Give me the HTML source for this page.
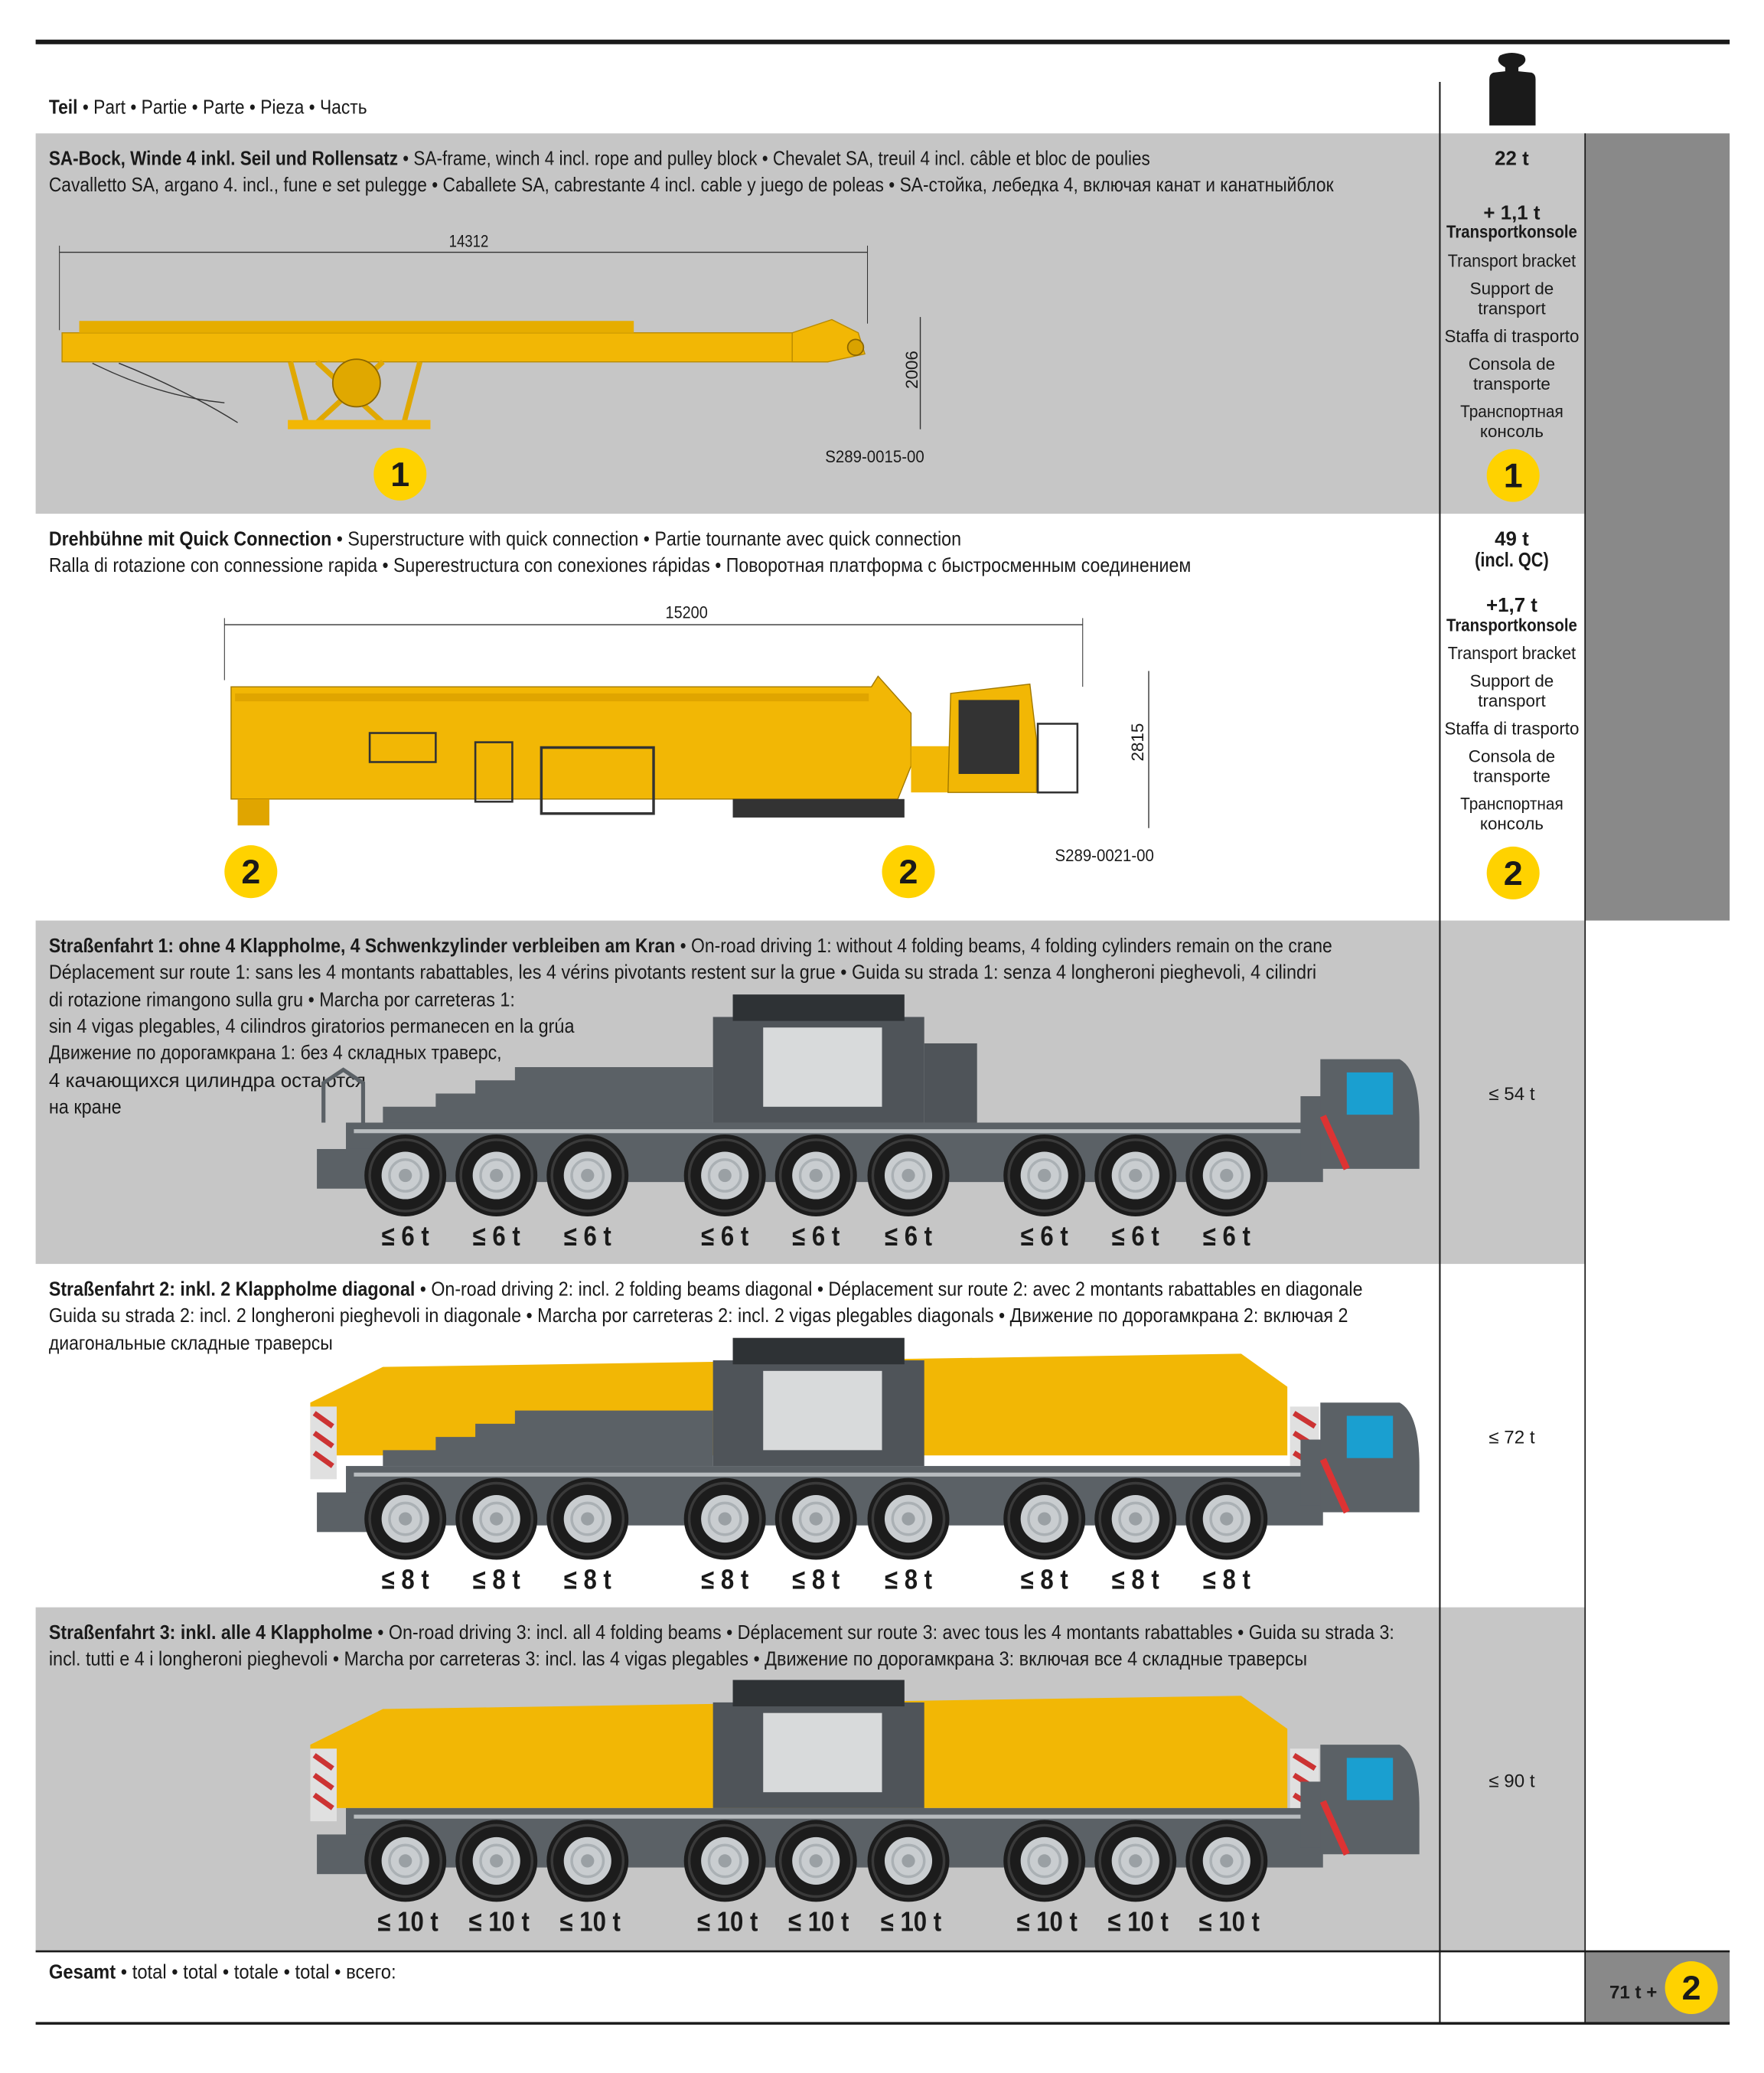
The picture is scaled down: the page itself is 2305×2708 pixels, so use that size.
<!DOCTYPE html>
<html><head><meta charset="utf-8"><style>
html,body{margin:0;padding:0;background:#fff;}
svg{display:block;}
text{font-family:"Liberation Sans Narrow","Liberation Sans",sans-serif;fill:#1a1a1a;}
.b{font-weight:bold;}
.c{text-anchor:middle;}
</style></head><body>
<svg width="2305" height="2708" viewBox="0 0 1336 1569.6" xmlns="http://www.w3.org/2000/svg">
<defs>
<g id="wheel">
<circle r="31" fill="#1c1c1c"/>
<circle r="27" fill="none" stroke="#3a3a3a" stroke-width="2"/>
<circle r="18" fill="#c9cdd0"/>
<circle r="12" fill="none" stroke="#aab0b4" stroke-width="2"/>
<circle r="5" fill="#9aa0a4"/>
</g>
<g id="wheels">
<use href="#wheel" x="307"/><use href="#wheel" x="376"/><use href="#wheel" x="445"/>
<use href="#wheel" x="549"/><use href="#wheel" x="618"/><use href="#wheel" x="688"/>
<use href="#wheel" x="791"/><use href="#wheel" x="860"/><use href="#wheel" x="929"/>
</g>
<g id="chassis">
<rect x="262" y="-40" width="740" height="45" fill="#5b6166"/>
<rect x="268" y="-35" width="720" height="3" fill="#b8bcbf"/>
<rect x="240" y="-20" width="40" height="30" fill="#5b6166"/>
<rect x="985" y="-60" width="20" height="50" fill="#5b6166"/>
<path d="M1000,-88 L1060,-88 Q1075,-80 1075,-40 L1075,-5 L1000,-5 Z" fill="#5b6166"/>
<rect x="1020" y="-78" width="35" height="32" fill="#1a9fd0"/>
<path d="M1002,-45 L1020,-5" stroke="#d33" stroke-width="5"/>
</g>
</defs>

<rect x="27" y="30" width="1283" height="3.5" fill="#1a1a1a"/>
<rect x="27" y="101" width="1173" height="288" fill="#c6c6c6"/>
<rect x="1200" y="101" width="110" height="596" fill="#898989"/>
<rect x="27" y="697" width="1173" height="260" fill="#c6c6c6"/>
<rect x="27" y="1217" width="1173" height="260" fill="#c6c6c6"/>
<rect x="1200" y="1477" width="110" height="55" fill="#898989"/>
<line x1="1090.5" y1="62" x2="1090.5" y2="1532" stroke="#1a1a1a" stroke-width="1.2"/>
<line x1="1200.5" y1="101" x2="1200.5" y2="1532" stroke="#1a1a1a" stroke-width="1"/>
<line x1="27" y1="1477.5" x2="1310" y2="1477.5" stroke="#1a1a1a" stroke-width="1.5"/>
<rect x="27" y="1531" width="1283" height="2" fill="#1a1a1a"/>

<path d="M1136,42 Q1145,38 1154,42 Q1158,47 1150,51 L1150,54 L1160,55 Q1163,56 1163,60 L1163,95 L1128,95 L1128,60 Q1128,56 1131,55 L1140,54 L1140,51 Q1132,47 1136,42 Z" fill="#1a1a1a"/>

<text x="37" y="86" font-size="15" textLength="241" lengthAdjust="spacingAndGlyphs"><tspan class="b">Teil</tspan> • Part • Partie • Parte • Pieza • Часть</text>

<!-- Row 1 -->
<text x="37" y="125" font-size="15" textLength="834" lengthAdjust="spacingAndGlyphs"><tspan class="b">SA-Bock, Winde 4 inkl. Seil und Rollensatz</tspan> • SA-frame, winch 4 incl. rope and pulley block • Chevalet SA, treuil 4 incl. câble et bloc de poulies</text>
<text x="37" y="145" font-size="15" textLength="973" lengthAdjust="spacingAndGlyphs">Cavalletto SA, argano 4. incl., fune e set pulegge • Caballete SA, cabrestante 4 incl. cable y juego de poleas • SA-стойка, лебедка 4, включая канат и канатныйблок</text>
<line x1="45" y1="191" x2="657" y2="191" stroke="#333" stroke-width="0.8"/>
<line x1="45" y1="186" x2="45" y2="250" stroke="#333" stroke-width="0.6"/>
<line x1="657" y1="186" x2="657" y2="245" stroke="#333" stroke-width="0.6"/>
<text x="355" y="187" font-size="13" class="c" textLength="30" lengthAdjust="spacingAndGlyphs">14312</text>
<line x1="697" y1="240" x2="697" y2="325" stroke="#333" stroke-width="0.8"/>
<text x="695" y="280" font-size="13" class="c" transform="rotate(-90 695 280)">2006</text>
<text x="700" y="350" font-size="13" text-anchor="end" textLength="75" lengthAdjust="spacingAndGlyphs">S289-0015-00</text>
<rect x="47" y="252" width="580" height="22" fill="#f2b705" stroke="#b88a00" stroke-width="0.8"/>
<path d="M600,252 L630,242 L650,252 L655,268 L627,274 L600,274 Z" fill="#f2b705" stroke="#b88a00" stroke-width="0.8"/>
<circle cx="648" cy="263" r="6" fill="#d9a200" stroke="#8a6500"/>
<rect x="60" y="243" width="420" height="9" fill="#e6ad00"/>
<path d="M220,274 L232,320 M318,274 L306,320 M240,274 L290,320 M290,274 L240,320" stroke="#e0a800" stroke-width="4"/>
<rect x="218" y="318" width="108" height="7" fill="#f2b705"/>
<circle cx="270" cy="290" r="18" fill="#e0a800" stroke="#8a6500"/>
<path d="M70,275 Q120,300 170,305" stroke="#333" fill="none" stroke-width="0.8"/>
<path d="M90,275 Q140,295 180,320" stroke="#333" fill="none" stroke-width="0.8"/>
<circle cx="303" cy="359" r="20" fill="#ffd200"/>
<text x="303" y="368" font-size="26" class="b c">1</text>

<text x="1145" y="125" font-size="15" class="b c">22 t</text>
<text x="1145" y="166" font-size="15" class="b c">+ 1,1 t</text>
<text x="1145" y="180" font-size="13.5" class="b c" textLength="99" lengthAdjust="spacingAndGlyphs">Transportkonsole</text>
<text x="1145" y="202" font-size="13.5" class="c" textLength="97" lengthAdjust="spacingAndGlyphs">Transport bracket</text>
<text x="1145" y="223" font-size="13" class="c">Support de</text>
<text x="1145" y="238" font-size="13" class="c">transport</text>
<text x="1145" y="259" font-size="13.5" class="c" textLength="102" lengthAdjust="spacingAndGlyphs">Staffa di trasporto</text>
<text x="1145" y="280" font-size="13" class="c">Consola de</text>
<text x="1145" y="295" font-size="13" class="c">transporte</text>
<text x="1145" y="316" font-size="13" class="c" textLength="78" lengthAdjust="spacingAndGlyphs">Транспортная</text>
<text x="1145" y="331" font-size="13" class="c">консоль</text>
<circle cx="1146" cy="360" r="20" fill="#ffd200"/>
<text x="1146" y="369" font-size="26" class="b c">1</text>

<!-- Row 2 -->
<text x="37" y="413" font-size="15" textLength="691" lengthAdjust="spacingAndGlyphs"><tspan class="b">Drehbühne mit Quick Connection</tspan> • Superstructure with quick connection • Partie tournante avec quick connection</text>
<text x="37" y="433" font-size="15" textLength="865" lengthAdjust="spacingAndGlyphs">Ralla di rotazione con connessione rapida • Superestructura con conexiones rápidas • Поворотная платформа с быстросменным соединением</text>
<line x1="170" y1="473" x2="820" y2="473" stroke="#333" stroke-width="0.8"/>
<line x1="170" y1="468" x2="170" y2="515" stroke="#333" stroke-width="0.6"/>
<line x1="820" y1="468" x2="820" y2="520" stroke="#333" stroke-width="0.6"/>
<text x="520" y="468" font-size="13" class="c" textLength="32" lengthAdjust="spacingAndGlyphs">15200</text>
<line x1="870" y1="508" x2="870" y2="627" stroke="#333" stroke-width="0.8"/>
<text x="866" y="562" font-size="13" class="c" transform="rotate(-90 866 562)">2815</text>
<text x="874" y="652" font-size="13" text-anchor="end" textLength="75" lengthAdjust="spacingAndGlyphs">S289-0021-00</text>
<path d="M175,520 L660,520 L665,512 L690,540 L690,580 L680,605 L175,605 Z" fill="#f2b705" stroke="#a07800" stroke-width="0.8"/>
<rect x="178" y="525" width="480" height="6" fill="#e0a500"/>
<rect x="410" y="566" width="85" height="50" fill="none" stroke="#333" stroke-width="2"/>
<rect x="360" y="562" width="28" height="45" fill="none" stroke="#333" stroke-width="1.5"/>
<rect x="280" y="555" width="50" height="22" fill="none" stroke="#333" stroke-width="1.5"/>
<rect x="555" y="605" width="130" height="14" fill="#333"/>
<rect x="180" y="605" width="24" height="20" fill="#e0a500"/>
<rect x="690" y="565" width="30" height="35" fill="#f2b705"/>
<path d="M720,525 L780,518 L785,560 L785,600 L718,600 Z" fill="#f2b705" stroke="#a07800" stroke-width="0.8"/>
<rect x="726" y="530" width="46" height="56" fill="#333"/>
<rect x="786" y="548" width="30" height="52" fill="none" stroke="#333" stroke-width="1.5"/>
<circle cx="190" cy="660" r="20" fill="#ffd200"/>
<text x="190" y="669" font-size="26" class="b c">2</text>
<circle cx="688" cy="660" r="20" fill="#ffd200"/>
<text x="688" y="669" font-size="26" class="b c">2</text>

<text x="1145" y="413" font-size="15" class="b c">49 t</text>
<text x="1145" y="429" font-size="15" class="b c" textLength="56" lengthAdjust="spacingAndGlyphs">(incl. QC)</text>
<text x="1145" y="463" font-size="15" class="b c">+1,7 t</text>
<text x="1145" y="478" font-size="13.5" class="b c" textLength="99" lengthAdjust="spacingAndGlyphs">Transportkonsole</text>
<text x="1145" y="499" font-size="13.5" class="c" textLength="97" lengthAdjust="spacingAndGlyphs">Transport bracket</text>
<text x="1145" y="520" font-size="13" class="c">Support de</text>
<text x="1145" y="535" font-size="13" class="c">transport</text>
<text x="1145" y="556" font-size="13.5" class="c" textLength="102" lengthAdjust="spacingAndGlyphs">Staffa di trasporto</text>
<text x="1145" y="577" font-size="13" class="c">Consola de</text>
<text x="1145" y="592" font-size="13" class="c">transporte</text>
<text x="1145" y="613" font-size="13" class="c" textLength="78" lengthAdjust="spacingAndGlyphs">Транспортная</text>
<text x="1145" y="628" font-size="13" class="c">консоль</text>
<circle cx="1146" cy="661" r="20" fill="#ffd200"/>
<text x="1146" y="670" font-size="26" class="b c">2</text>

<!-- Row 3 -->
<text x="37" y="721" font-size="15" textLength="972" lengthAdjust="spacingAndGlyphs"><tspan class="b">Straßenfahrt 1: ohne 4 Klappholme, 4 Schwenkzylinder verbleiben am Kran</tspan> • On-road driving 1: without 4 folding beams, 4 folding cylinders remain on the crane</text>
<text x="37" y="741" font-size="15" textLength="960" lengthAdjust="spacingAndGlyphs">Déplacement sur route 1: sans les 4 montants rabattables, les 4 vérins pivotants restent sur la grue • Guida su strada 1: senza 4 longheroni pieghevoli, 4 cilindri</text>
<text x="37" y="762" font-size="15" textLength="353" lengthAdjust="spacingAndGlyphs">di rotazione rimangono sulla gru • Marcha por carreteras 1:</text>
<text x="37" y="782" font-size="15" textLength="398" lengthAdjust="spacingAndGlyphs">sin 4 vigas plegables, 4 cilindros giratorios permanecen en la grúa</text>
<text x="37" y="802" font-size="15" textLength="343" lengthAdjust="spacingAndGlyphs">Движение по дорогамкрана 1: без 4 складных траверс,</text>
<text x="37" y="823" font-size="15" textLength="240" lengthAdjust="spacingAndGlyphs">4 качающихся цилиндра остаются</text>
<text x="37" y="843" font-size="15" textLength="55" lengthAdjust="spacingAndGlyphs">на кране</text>
<g transform="translate(0,890)">
<path d="M290,-40 L290,-52 L330,-52 L330,-62 L360,-62 L360,-72 L390,-72 L390,-82 L540,-82 L540,-40 Z" fill="#5b6166"/>
<rect x="540" y="-120" width="160" height="80" fill="#4f5459"/>
<rect x="555" y="-137" width="130" height="20" fill="#2e3235"/>
<rect x="578" y="-112" width="90" height="60" fill="#d8dadb"/>
<rect x="700" y="-100" width="40" height="60" fill="#4f5459"/>
<path d="M245,-40 L245,-70 L260,-80 L275,-70 L275,-40" fill="none" stroke="#5b6166" stroke-width="3"/>
<use href="#chassis"/>
<use href="#wheels"/>
</g>
<g font-size="21" class="b">
<text x="307" y="943" class="b c" textLength="36" lengthAdjust="spacingAndGlyphs">≤ 6 t</text><text x="376" y="943" class="b c" textLength="36" lengthAdjust="spacingAndGlyphs">≤ 6 t</text><text x="445" y="943" class="b c" textLength="36" lengthAdjust="spacingAndGlyphs">≤ 6 t</text>
<text x="549" y="943" class="b c" textLength="36" lengthAdjust="spacingAndGlyphs">≤ 6 t</text><text x="618" y="943" class="b c" textLength="36" lengthAdjust="spacingAndGlyphs">≤ 6 t</text><text x="688" y="943" class="b c" textLength="36" lengthAdjust="spacingAndGlyphs">≤ 6 t</text>
<text x="791" y="943" class="b c" textLength="36" lengthAdjust="spacingAndGlyphs">≤ 6 t</text><text x="860" y="943" class="b c" textLength="36" lengthAdjust="spacingAndGlyphs">≤ 6 t</text><text x="929" y="943" class="b c" textLength="36" lengthAdjust="spacingAndGlyphs">≤ 6 t</text>
</g>
<text x="1145" y="833" font-size="14" class="c">≤ 54 t</text>

<!-- Row 4 -->
<text x="37" y="981" font-size="15" textLength="995" lengthAdjust="spacingAndGlyphs"><tspan class="b">Straßenfahrt 2: inkl. 2 Klappholme diagonal</tspan> • On-road driving 2: incl. 2 folding beams diagonal • Déplacement sur route 2: avec 2 montants rabattables en diagonale</text>
<text x="37" y="1001" font-size="15" textLength="984" lengthAdjust="spacingAndGlyphs">Guida su strada 2: incl. 2 longheroni pieghevoli in diagonale • Marcha por carreteras 2: incl. 2 vigas plegables diagonals • Движение по дорогамкрана 2: включая 2</text>
<text x="37" y="1022" font-size="15" textLength="215" lengthAdjust="spacingAndGlyphs">диагональные складные траверсы</text>
<g transform="translate(0,1150)">
<path d="M235,-88 L290,-115 L940,-125 L975,-100 L975,-48 L235,-48 Z" fill="#f2b705"/>
<path d="M290,-40 L290,-52 L330,-52 L330,-62 L360,-62 L360,-72 L390,-72 L390,-82 L540,-82 L540,-40 Z" fill="#5b6166"/>
<rect x="540" y="-120" width="160" height="80" fill="#4f5459"/>
<rect x="555" y="-137" width="130" height="20" fill="#2e3235"/>
<rect x="578" y="-112" width="90" height="60" fill="#d8dadb"/>
<rect x="235" y="-85" width="20" height="55" fill="#e0e0e0"/>
<rect x="977" y="-85" width="22" height="60" fill="#e0e0e0"/>
<path d="M238,-80 L252,-70 M238,-65 L252,-55 M238,-50 L252,-40 M980,-80 L996,-70 M980,-65 L996,-55 M980,-50 L996,-40" stroke="#c33" stroke-width="4"/>
<use href="#chassis"/>
<use href="#wheels"/>
</g>
<g font-size="21">
<text x="307" y="1203" class="b c" textLength="36" lengthAdjust="spacingAndGlyphs">≤ 8 t</text><text x="376" y="1203" class="b c" textLength="36" lengthAdjust="spacingAndGlyphs">≤ 8 t</text><text x="445" y="1203" class="b c" textLength="36" lengthAdjust="spacingAndGlyphs">≤ 8 t</text>
<text x="549" y="1203" class="b c" textLength="36" lengthAdjust="spacingAndGlyphs">≤ 8 t</text><text x="618" y="1203" class="b c" textLength="36" lengthAdjust="spacingAndGlyphs">≤ 8 t</text><text x="688" y="1203" class="b c" textLength="36" lengthAdjust="spacingAndGlyphs">≤ 8 t</text>
<text x="791" y="1203" class="b c" textLength="36" lengthAdjust="spacingAndGlyphs">≤ 8 t</text><text x="860" y="1203" class="b c" textLength="36" lengthAdjust="spacingAndGlyphs">≤ 8 t</text><text x="929" y="1203" class="b c" textLength="36" lengthAdjust="spacingAndGlyphs">≤ 8 t</text>
</g>
<text x="1145" y="1093" font-size="14" class="c">≤ 72 t</text>

<!-- Row 5 -->
<text x="37" y="1241" font-size="15" textLength="1019" lengthAdjust="spacingAndGlyphs"><tspan class="b">Straßenfahrt 3: inkl. alle 4 Klappholme</tspan> • On-road driving 3: incl. all 4 folding beams • Déplacement sur route 3: avec tous les 4 montants rabattables • Guida su strada 3:</text>
<text x="37" y="1261" font-size="15" textLength="953" lengthAdjust="spacingAndGlyphs">incl. tutti e 4 i longheroni pieghevoli • Marcha por carreteras 3: incl. las 4 vigas plegables • Движение по дорогамкрана 3: включая все 4 складные траверсы</text>
<g transform="translate(0,1409)">
<path d="M235,-88 L290,-115 L940,-125 L975,-100 L975,-40 L235,-40 Z" fill="#f2b705"/>
<rect x="540" y="-120" width="160" height="80" fill="#4f5459"/>
<rect x="555" y="-137" width="130" height="20" fill="#2e3235"/>
<rect x="578" y="-112" width="90" height="60" fill="#d8dadb"/>
<rect x="235" y="-85" width="20" height="55" fill="#e0e0e0"/>
<rect x="977" y="-85" width="22" height="60" fill="#e0e0e0"/>
<path d="M238,-80 L252,-70 M238,-65 L252,-55 M238,-50 L252,-40 M980,-80 L996,-70 M980,-65 L996,-55 M980,-50 L996,-40" stroke="#c33" stroke-width="4"/>
<use href="#chassis"/>
<use href="#wheels"/>
</g>
<g font-size="21">
<text x="309" y="1462" class="b c" textLength="46" lengthAdjust="spacingAndGlyphs">≤ 10 t</text><text x="378" y="1462" class="b c" textLength="46" lengthAdjust="spacingAndGlyphs">≤ 10 t</text><text x="447" y="1462" class="b c" textLength="46" lengthAdjust="spacingAndGlyphs">≤ 10 t</text>
<text x="551" y="1462" class="b c" textLength="46" lengthAdjust="spacingAndGlyphs">≤ 10 t</text><text x="620" y="1462" class="b c" textLength="46" lengthAdjust="spacingAndGlyphs">≤ 10 t</text><text x="690" y="1462" class="b c" textLength="46" lengthAdjust="spacingAndGlyphs">≤ 10 t</text>
<text x="793" y="1462" class="b c" textLength="46" lengthAdjust="spacingAndGlyphs">≤ 10 t</text><text x="862" y="1462" class="b c" textLength="46" lengthAdjust="spacingAndGlyphs">≤ 10 t</text><text x="931" y="1462" class="b c" textLength="46" lengthAdjust="spacingAndGlyphs">≤ 10 t</text>
</g>
<text x="1145" y="1353" font-size="14" class="c">≤ 90 t</text>

<!-- Gesamt -->
<text x="37" y="1498" font-size="15" textLength="263" lengthAdjust="spacingAndGlyphs"><tspan class="b">Gesamt</tspan> • total • total • totale • total • всего:</text>
<text x="1237" y="1513" font-size="14" class="b c">71 t +</text>
<circle cx="1281" cy="1505" r="20" fill="#ffd200"/>
<text x="1281" y="1514" font-size="26" class="b c">2</text>
</svg>
</body></html>
